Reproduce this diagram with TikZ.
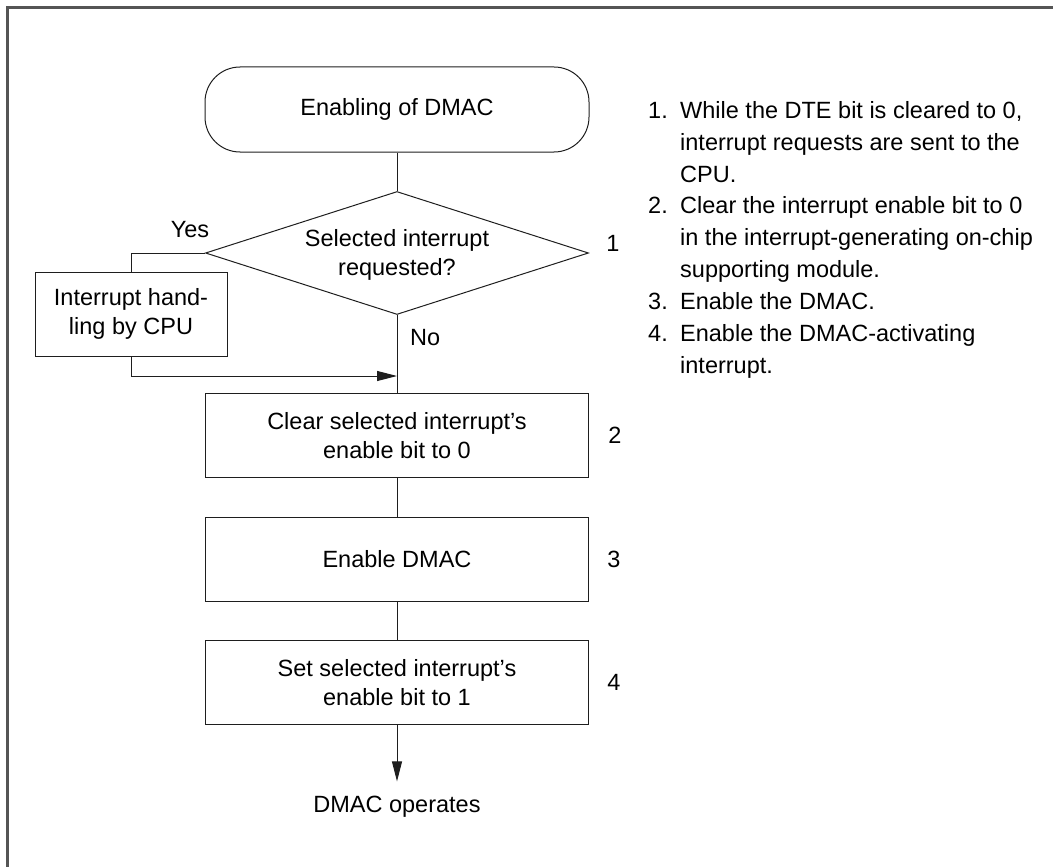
\documentclass[tikz,border=0pt]{standalone}
\usepackage{fontspec}
\setmainfont{Liberation Sans}
\usetikzlibrary{shapes.geometric,arrows.meta}
\definecolor{framec}{RGB}{85,85,85}
\definecolor{linec}{RGB}{30,30,30}
\begin{document}
\begin{tikzpicture}[x=1pt,y=-1pt,
  font=\fontsize{23.5}{29}\selectfont,
  every node/.style={text=black},
  stepbox/.style={draw=linec,line width=1pt,rectangle,minimum width=383pt,minimum height=84pt,inner sep=0pt,align=center},
  termbox/.style={draw=linec,line width=1pt,rectangle,rounded corners=35pt,minimum width=384pt,minimum height=85pt,inner sep=0pt,align=center},
  decbox/.style={draw=linec,line width=1pt,diamond,minimum width=383pt,minimum height=123pt,inner sep=0pt},
  conn/.style={draw=linec,line width=1pt},
  arr/.style={conn,-{Triangle[length=20pt,width=10pt]}},
  numlab/.style={inner sep=0pt}
]
\useasboundingbox (0,0) rectangle (1053,867);
\draw[framec,line width=2.2pt] (1053,7.5) -- (7.5,7.5) -- (7.5,867);

\node[termbox] (start) at (397,109.5) {Enabling of DMAC};
\node[decbox] (dec) at (397,253) {};
\node[align=center,inner sep=0pt] (dectext) at (397,255) {Selected interrupt\\requested?};
\node[stepbox,minimum width=192pt] (intr) at (131,314) {Interrupt hand-\\ling by CPU};
\node[stepbox] (clr) at (397,435.5) {Clear selected interrupt’s\\enable bit to 0};
\node[stepbox] (ena) at (397,559) {Enable DMAC};
\node[stepbox] (set) at (397,682.5) {Set selected interrupt’s\\enable bit to 1};
\node[anchor=base,inner xsep=0pt,inner ysep=14pt] (end) at (397,812) {DMAC operates};
\coordinate (merge) at (397,376);

\node[inner sep=0pt] (yes) at (190,230) {Yes};
\node[inner sep=0pt,anchor=west] (no) at (410,338) {No};

\node[numlab] (n1) at (613,243) {1};
\node[numlab] (n2) at (615,435.5) {2};
\node[numlab] (n3) at (614,559) {3};
\node[numlab] (n4) at (614,682.5) {4};

\draw[conn] (start.south) -- (dec.north);
\draw[conn] (dec.west) -| (intr.north);
\draw[arr] (intr.south) |- (merge);
\draw[conn] (dec.south) -- (clr.north);
\draw[conn] (clr.south) -- (ena.north);
\draw[conn] (ena.south) -- (set.north);
\draw[arr] (set.south) -- (end.north);

\node[anchor=north west,inner sep=0pt,font=\fontsize{23.5}{31.9}\selectfont] (notes) at (648,95.7) {%
\begin{tabular}{@{}l@{\hspace{12.4pt}}l@{}}
1. & While the DTE bit is cleared to 0,\\
   & interrupt requests are sent to the\\
   & CPU.\\
2. & Clear the interrupt enable bit to 0\\
   & in the interrupt-generating on-chip\\
   & supporting module.\\
3. & Enable the DMAC.\\
4. & Enable the DMAC-activating\\
   & interrupt.
\end{tabular}};
\end{tikzpicture}
\end{document}
